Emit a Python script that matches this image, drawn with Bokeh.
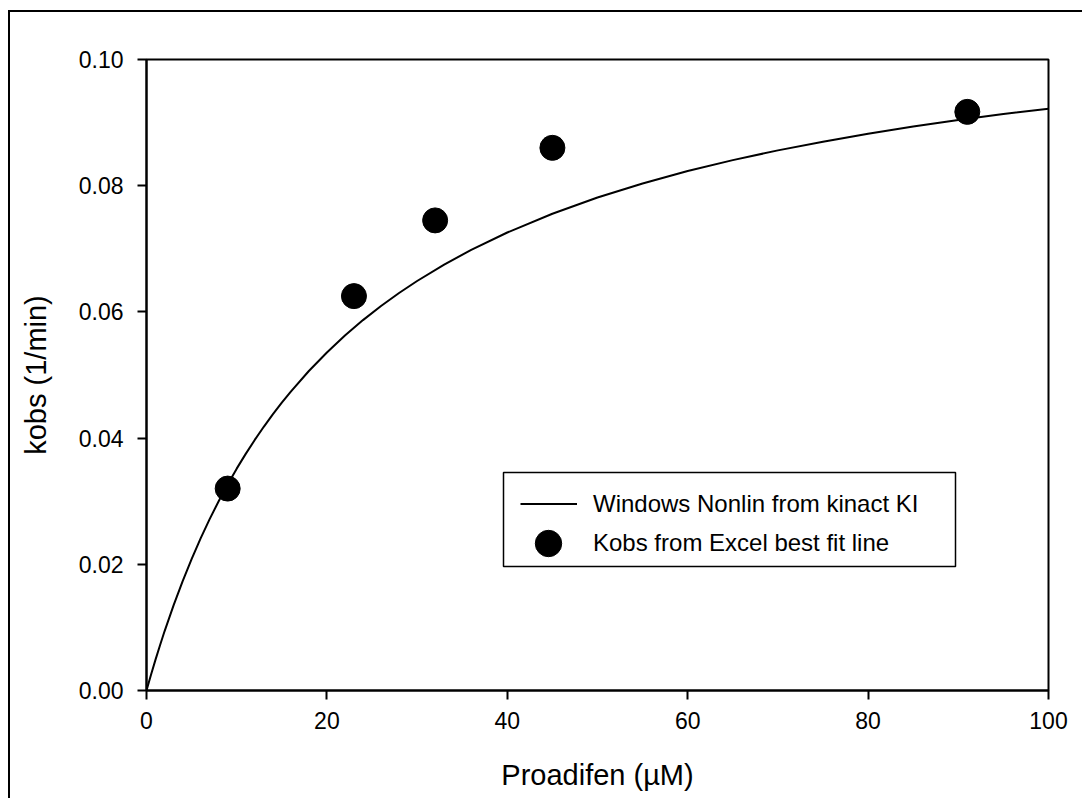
from bokeh.plotting import figure
from bokeh.models import (Range1d, FixedTicker, PrintfTickFormatter, Legend, LegendItem,
                          BoxAnnotation, ColumnDataSource)
from bokeh.embed import file_html
from bokeh.resources import INLINE

# ---- data ----
conc_points = [9, 23, 32, 45, 91]
kobs_points = [0.0320, 0.0625, 0.0745, 0.0860, 0.0917]

curve_conc = [0, 0.5, 1, 1.5, 2, 3, 4, 5, 6, 7, 8, 9, 10, 11, 12, 13, 14, 15, 16, 18, 20,
              22, 24, 26, 28, 30, 33, 36, 40, 45, 50, 55, 60, 65, 70, 75, 80, 85, 90, 95, 100]
curve_kobs = [0.0, 0.00250, 0.00489, 0.00718, 0.00938, 0.01350, 0.01731, 0.02083, 0.02411,
              0.02716, 0.03000, 0.03266, 0.03516, 0.03750, 0.03971, 0.04179, 0.04375, 0.04561,
              0.04737, 0.05063, 0.05357, 0.05625, 0.05870, 0.06094, 0.06300, 0.06490, 0.06750,
              0.06983, 0.07258, 0.07556, 0.07813, 0.08036, 0.08232, 0.08405, 0.08560, 0.08698,
              0.08824, 0.08937, 0.09040, 0.09135, 0.09221]

x_ticks = [0, 20, 40, 60, 80, 100]
y_ticks = [0.0, 0.02, 0.04, 0.06, 0.08, 0.10]

line_label = "Windows Nonlin from kinact KI"
point_label = "Kobs from Excel best fit line"
x_title = "Proadifen (µM)"
y_title = "kobs (1/min)"

FONT = "Liberation Sans"

p = figure(width=1082, height=798, output_backend="svg", toolbar_location=None,
           x_range=Range1d(0, 100), y_range=Range1d(0, 0.1),
           min_border_left=146, min_border_right=34, min_border_top=59, min_border_bottom=108)
p.background_fill_color = "white"
p.border_fill_color = "white"
p.grid.visible = False
p.outline_line_color = "black"
p.outline_line_width = 2
p.outline_line_alpha = 1.0

for ax in (p.xaxis[0], p.yaxis[0]):
    ax.axis_line_width = 2
    ax.axis_line_color = "black"
    ax.major_tick_line_width = 2
    ax.major_tick_line_color = "black"
    ax.major_tick_out = 9
    ax.major_tick_in = 0
    ax.minor_tick_line_color = None
    ax.major_label_text_font = FONT
    ax.major_label_text_font_size = "23px"
    ax.major_label_text_color = "black"
    ax.axis_label_text_font = FONT
    ax.axis_label_text_font_size = "29px"
    ax.axis_label_text_font_style = "normal"
    ax.axis_label_text_color = "black"

p.xaxis[0].ticker = FixedTicker(ticks=x_ticks)
p.yaxis[0].ticker = FixedTicker(ticks=y_ticks)
p.yaxis[0].formatter = PrintfTickFormatter(format="%.2f")
p.xaxis[0].major_label_standoff = 12
p.yaxis[0].major_label_standoff = 14
p.xaxis[0].axis_label = x_title
p.yaxis[0].axis_label = y_title
p.xaxis[0].axis_label_standoff = 27
p.yaxis[0].axis_label_standoff = 24

curve_src = ColumnDataSource(dict(x=curve_conc, y=curve_kobs))
pts_src = ColumnDataSource(dict(x=conc_points, y=kobs_points))

r_line = p.line("x", "y", source=curve_src, line_color="black", line_width=2)
r_pts = p.scatter("x", "y", source=pts_src, size=25, fill_color="black", line_color="black")

# legend frame box (screen units relative to the plot frame)
legend_box = BoxAnnotation(left=357, right=809, bottom=124, top=218,
                           left_units="screen", right_units="screen",
                           bottom_units="screen", top_units="screen",
                           fill_color="white", fill_alpha=1.0,
                           line_color="black", line_alpha=1.0, line_width=1.5, level="overlay")
p.add_layout(legend_box)

legend_line = Legend(items=[LegendItem(label=line_label, renderers=[r_line])],
                     location=(374, 158), orientation="vertical",
                     glyph_width=57, glyph_height=57, padding=0, margin=0,
                     label_standoff=16, label_text_font=FONT, label_text_font_size="24px",
                     label_text_color="black",
                     border_line_alpha=0, background_fill_alpha=0)
legend_pts = Legend(items=[LegendItem(label=point_label, renderers=[r_pts])],
                    location=(369, 114), orientation="vertical",
                    glyph_width=66, glyph_height=66, padding=0, margin=0,
                    label_standoff=12, label_text_font=FONT, label_text_font_size="24px",
                    label_text_color="black",
                    border_line_alpha=0, background_fill_alpha=0)
p.add_layout(legend_line)
p.add_layout(legend_pts)

html = file_html(p, INLINE)
frame_css = ("<style>html,body{margin:0;padding:0;background:#fff}"
             "body::after{content:'';position:fixed;left:8px;top:10px;width:3000px;height:3000px;"
             "border-left:2px solid #000;border-top:2px solid #000;pointer-events:none;z-index:1000}"
             "</style></head>")
html = html.replace("</head>", frame_css, 1)
open("out.html", "w").write(html)
